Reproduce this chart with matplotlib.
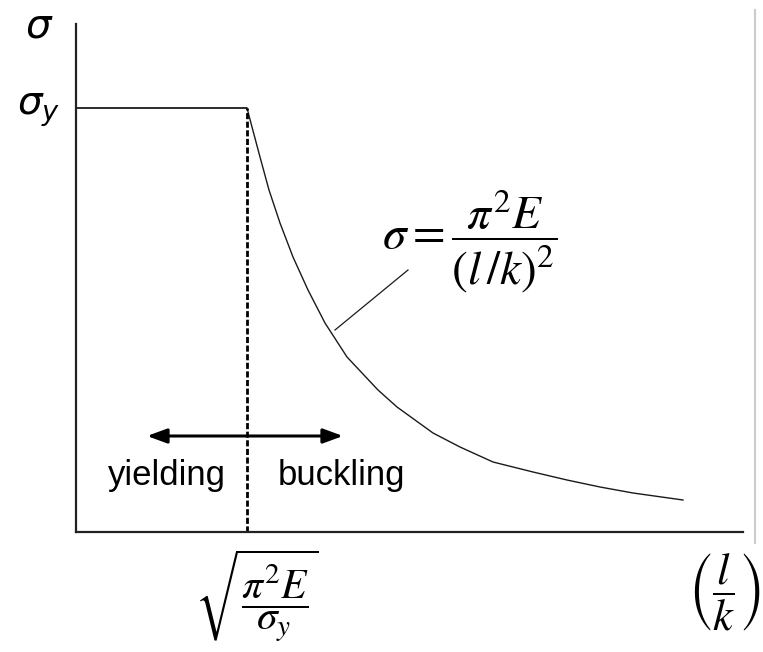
import matplotlib
matplotlib.use("Agg")
import matplotlib.pyplot as plt
from matplotlib.lines import Line2D

# ---- data (arbitrary units) ----
sigma_y = 424                 # yield stress level
lk_crit = 171                 # critical slenderness sqrt(pi^2 E / sigma_y)
plateau_x = [0, lk_crit]
plateau_y = [sigma_y, sigma_y]
curve_x = [171, 176, 184, 193, 204, 217, 232, 249, 271, 302, 321, 357, 384, 417, 457, 491, 524, 557, 607]
curve_y = [424, 405, 375, 342, 309, 275, 242, 209, 175, 142, 125, 99, 85, 70, 60, 52, 45, 39, 32]
arrow_left, arrow_right, arrow_level = 71, 267, 96
leader_x = [259, 332]
leader_y = [202, 262]
x_max, y_max = 667, 508

fig = plt.figure(figsize=(7.63, 6.52), dpi=100)
ax = fig.add_axes([76 / 763, (652 - 532) / 652, (743 - 76) / 763, (532 - 24) / 652])
ax.set_xlim(0, x_max)
ax.set_ylim(0, y_max)
for s in ("top", "right"):
    ax.spines[s].set_visible(False)
for s in ("left", "bottom"):
    ax.spines[s].set_linewidth(1.6)
    ax.spines[s].set_color("#222222")
ax.set_xticks([])
ax.set_yticks([])

ink = "#1a1a1a"
ax.plot(plateau_x, plateau_y, color=ink, lw=1.3, solid_capstyle="butt")
ax.plot(curve_x, curve_y, color=ink, lw=1.0)
ax.plot([lk_crit, lk_crit], [0, sigma_y], color="black", lw=2.0,
        dashes=(2.2, 0.9), clip_on=False)
ax.plot(leader_x, leader_y, color=ink, lw=0.9)

ax.annotate("", xy=(arrow_left, arrow_level), xytext=(arrow_right, arrow_level),
            arrowprops=dict(arrowstyle="<|-|>,head_length=0.6,head_width=0.22",
                            lw=2.2, color="black", mutation_scale=20,
                            shrinkA=0, shrinkB=0))

ax.text(32, 47, "yielding", fontsize=25, family="Liberation Sans", va="baseline", ha="left")
ax.text(202, 47, "buckling", fontsize=25, family="Liberation Sans", va="baseline", ha="left")

ax.text(-51, 495, r"$\sigma$", fontsize=29, math_fontfamily="dejavusans",
        va="baseline", ha="left", clip_on=False)
ax.text(-59, 417, r"$\sigma_y$", fontsize=28, math_fontfamily="dejavusans",
        va="baseline", ha="left", clip_on=False)

ax.text(306, 291, r"$\sigma = \dfrac{\pi^2 E}{(l\,/k)^2}$", fontsize=34,
        math_fontfamily="stix", va="center", ha="left")
ax.text(181, -63, r"$\sqrt{\dfrac{\pi^2 E}{\sigma_y}}$", fontsize=30,
        math_fontfamily="stix", va="center", ha="center", clip_on=False)
ax.text(648, -60, r"$\left(\dfrac{l}{k}\right)$", fontsize=32,
        math_fontfamily="stix", va="center", ha="center", clip_on=False)

fig.add_artist(Line2D([755 / 763, 755 / 763], [(652 - 543) / 652, (652 - 10) / 652],
                      transform=fig.transFigure, color="#cccccc", lw=1.5))

fig.savefig("out.png", dpi=100)
